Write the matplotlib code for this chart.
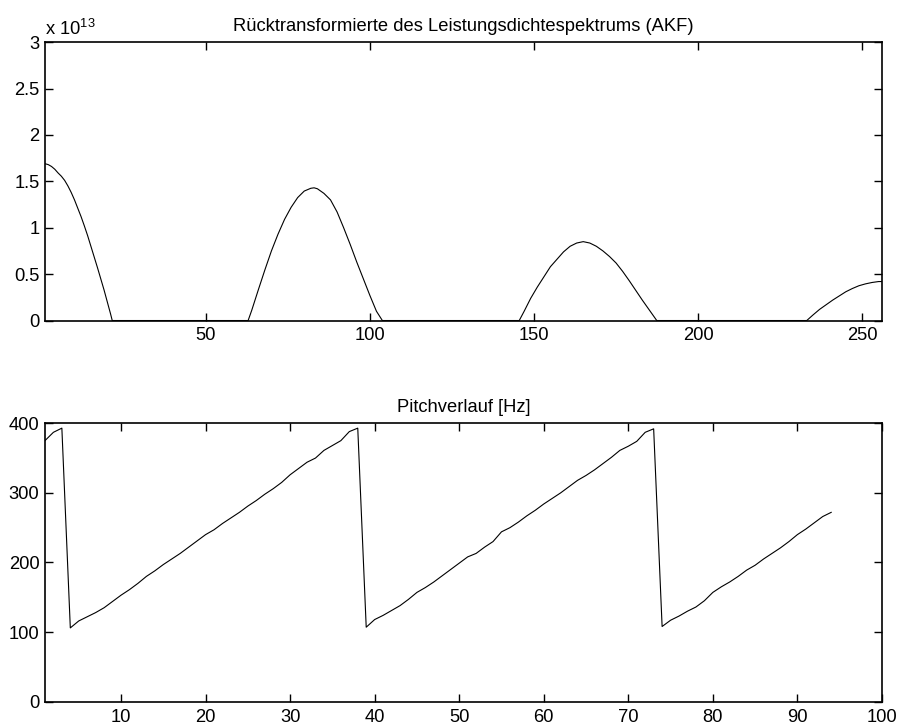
import numpy as np
import matplotlib
matplotlib.use('Agg')
import matplotlib.pyplot as plt
from matplotlib.ticker import FuncFormatter

plt.rcParams['font.family'] = ['Liberation Sans', 'DejaVu Sans']
plt.rcParams['mathtext.fontset'] = 'custom'
plt.rcParams['mathtext.rm'] = 'Liberation Sans'

# AKF (back-transformed power density spectrum), values in units of 1e13
akf_x = [1, 2, 3, 4, 5, 6, 7, 8, 9, 10, 11, 12, 13, 14, 15, 16, 17, 18, 19, 20, 21, 21.5,
         62.9, 64, 66, 68, 70, 72, 74, 76, 78, 80, 82, 83, 84, 86, 88, 90, 92, 94, 96, 98, 100, 102, 103.8,
         145.5, 147, 149, 151, 153, 155, 157, 159, 161, 163, 165, 167, 169, 171, 173, 175, 177, 179,
         181, 183, 185, 187.4,
         233.1, 235, 237, 239, 241, 243, 245, 247, 249, 251, 253, 255, 256]
akf_y = [1.69, 1.68, 1.66, 1.63, 1.59, 1.555, 1.51, 1.45, 1.38, 1.30, 1.21, 1.12, 1.02, 0.915,
         0.80, 0.685, 0.57, 0.45, 0.33, 0.20, 0.07, 0.0,
         0.0, 0.11, 0.33, 0.545, 0.75, 0.93, 1.09, 1.22, 1.325, 1.395, 1.425, 1.43, 1.42, 1.37,
         1.30, 1.17, 1.00, 0.82, 0.63, 0.45, 0.27, 0.10, 0.0,
         0.0, 0.10, 0.24, 0.36, 0.47, 0.58, 0.66, 0.74, 0.80, 0.835, 0.85, 0.835, 0.80, 0.75,
         0.69, 0.62, 0.53, 0.43, 0.325, 0.22, 0.12, 0.0,
         0.0, 0.06, 0.12, 0.17, 0.22, 0.265, 0.31, 0.345, 0.375, 0.395, 0.41, 0.42, 0.42]

# pitch track [Hz], one value per frame 1..94
pitch = [375, 387, 393,
         106, 116, 122, 128, 135, 144, 153, 161, 170, 180, 188, 197, 205, 213, 222, 231, 240,
         247, 256, 264, 272, 281, 289, 298, 306, 315, 326, 335, 344, 350, 361, 368, 375, 388, 393,
         107, 118, 124, 131, 138, 147, 157, 164, 172, 181, 190, 199, 208, 213, 222, 230, 244,
         250, 258, 267, 275, 284, 292, 300, 309, 318, 325, 333, 342, 351, 361, 367, 374, 387, 392,
         108, 117, 123, 130, 136, 145, 157, 165, 172, 180, 189, 196, 205, 213, 221, 230, 240,
         248, 257, 266, 272]
frames = np.arange(1, len(pitch) + 1)

fig = plt.figure(figsize=(8.99, 7.26), dpi=100)
ax1 = fig.add_axes([0.050, 0.5585, 0.931, 0.3835])
ax2 = fig.add_axes([0.050, 0.0335, 0.931, 0.3835])

ax1.plot(akf_x, np.array(akf_y) * 1e13, color='black', lw=0.8)
ax1.set_xlim(1, 256)
ax1.set_ylim(0, 3e13)
ax1.set_xticks([50, 100, 150, 200, 250])
ax1.set_yticks(np.arange(0, 3.01, 0.5) * 1e13)
ax1.yaxis.set_major_formatter(FuncFormatter(lambda v, p: '%g' % (v / 1e13)))
ax1.set_title('Rücktransformierte des Leistungsdichtespektrums (AKF)', fontsize=13.2, pad=8)
ax1.text(0.0, 1.012, r'x 10$^{\mathregular{13}}$', transform=ax1.transAxes,
         fontsize=13.2, ha='left', va='bottom')

ax2.plot(frames, pitch, color='black', lw=0.8)
ax2.set_xlim(1, 100)
ax2.set_ylim(0, 400)
ax2.set_xticks(range(10, 101, 10))
ax2.set_yticks(range(0, 401, 100))
ax2.set_title('Pitchverlauf [Hz]', fontsize=13.2, pad=8)

for ax in (ax1, ax2):
    ax.tick_params(direction='in', length=6, width=1, top=True, right=True,
                   labelsize=13.2, pad=5)
    ax.tick_params(axis='y', pad=4)
    for s in ax.spines.values():
        s.set_linewidth(1.2)

fig.savefig('out.png', dpi=100)
